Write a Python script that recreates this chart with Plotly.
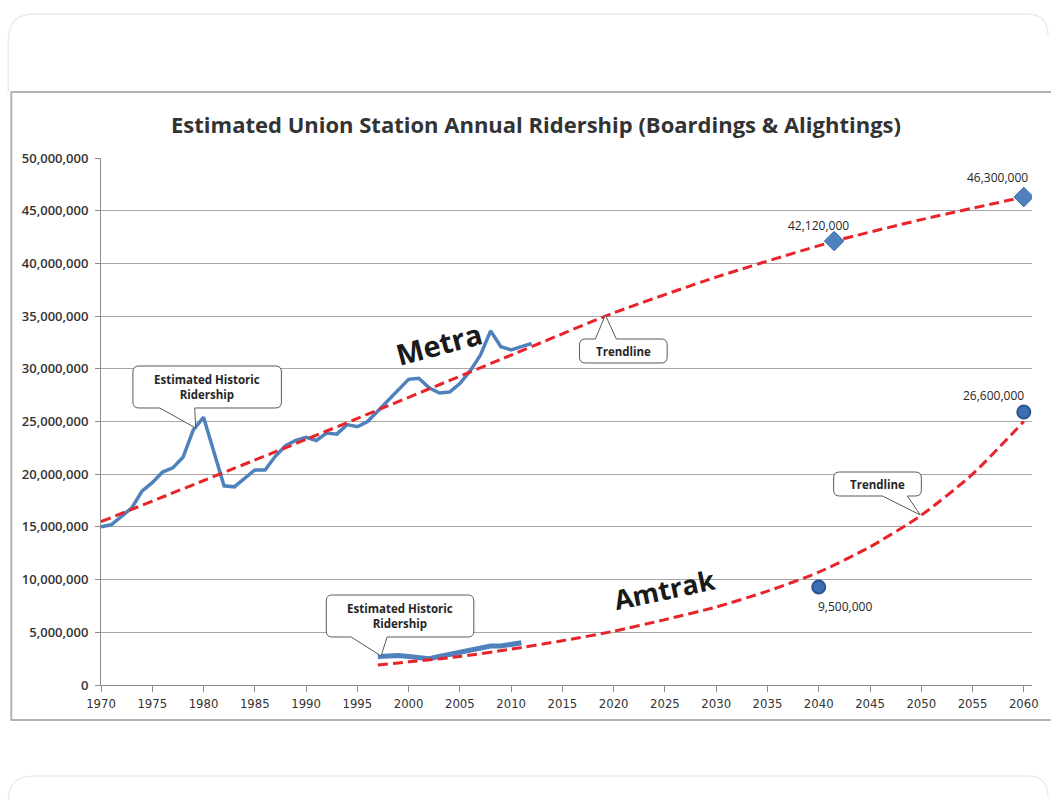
import plotly.graph_objects as go

# ---------------- data ----------------
metra_years = list(range(1970, 2013))
metra_riders = [15.0, 15.2, 16.0, 16.8, 18.4, 19.2, 20.2, 20.6, 21.6, 24.2,
                25.4, 22.0, 18.9, 18.8, 19.6, 20.4, 20.4, 21.7, 22.7, 23.2,
                23.5, 23.2, 23.9, 23.8, 24.7, 24.5, 25.0, 26.0, 27.0, 28.0,
                29.0, 29.1, 28.2, 27.7, 27.8, 28.6, 29.8, 31.3, 33.6, 32.1,
                31.8, 32.1, 32.4]  # millions

metra_trend_years = [1970, 1990, 2010, 2020, 2030, 2041.5, 2050, 2060]
metra_trend_vals = [15.5, 23.3, 31.3, 35.3, 38.7, 42.1, 44.15, 46.3]

metra_proj_years = [2041.5, 2060]
metra_proj_vals = [42.12, 46.3]
metra_proj_labels = ["42,120,000", "46,300,000"]

amtrak_years = list(range(1997, 2012))
amtrak_riders = [2.7, 2.8, 2.8, 2.7, 2.6, 2.5, 2.7, 2.9, 3.0, 3.2,
                 3.5, 3.7, 3.7, 3.8, 4.0]

amtrak_trend_years = [1997, 2000, 2005, 2010, 2015, 2020, 2025, 2030,
                      2035, 2040, 2045, 2050, 2055, 2060]
amtrak_trend_vals = [1.9, 2.2, 2.7, 3.4, 4.2, 5.1, 6.2, 7.4,
                     8.9, 10.7, 13.1, 16.1, 20.0, 25.0]

amtrak_proj_years = [2040, 2060]
amtrak_proj_vals = [9.3, 25.9]
amtrak_proj_labels = ["9,500,000", "26,600,000"]

M = 1_000_000
def scale(v):
    return [x * M for x in v]

BLUE = "#4f81bd"
RED = "#e8242a"
TXT = "#262626"

fig = go.Figure()

fig.add_trace(go.Scatter(x=metra_years, y=scale(metra_riders), mode="lines",
                         line=dict(color=BLUE, width=3.5), hoverinfo="skip"))
fig.add_trace(go.Scatter(x=amtrak_years, y=scale(amtrak_riders), mode="lines",
                         line=dict(color=BLUE, width=5), hoverinfo="skip"))
fig.add_trace(go.Scatter(x=metra_trend_years, y=scale(metra_trend_vals), mode="lines",
                         line=dict(color=RED, width=3, dash="10px,5px", shape="spline", smoothing=0.6),
                         hoverinfo="skip"))
fig.add_trace(go.Scatter(x=amtrak_trend_years, y=scale(amtrak_trend_vals), mode="lines",
                         line=dict(color=RED, width=3, dash="10px,5px", shape="spline", smoothing=0.6),
                         hoverinfo="skip"))
fig.add_trace(go.Scatter(x=metra_proj_years, y=scale(metra_proj_vals), mode="markers",
                         marker=dict(symbol="diamond", size=15, color=BLUE,
                                     line=dict(color="#3a6da8", width=1)),
                         hoverinfo="skip"))
fig.add_trace(go.Scatter(x=amtrak_proj_years, y=scale(amtrak_proj_vals), mode="markers",
                         marker=dict(symbol="circle", size=13, color="#3d6fb3",
                                     line=dict(color="#2a5591", width=2)),
                         hoverinfo="skip"))

# ---------------- layout helpers ----------------
L, R, T, B = 101, 1035, 158, 685
def PX(px):
    return (px - L) / (R - L)
def PY(py):
    return (B - py) / (B - T)

annotations = []
label_font = dict(family="Open Sans, sans-serif", size=12, color=TXT)
label_shifts = [(-16, 16), (-26, 20)]
for yr, v, t, (dx, dy) in zip(metra_proj_years, metra_proj_vals, metra_proj_labels, label_shifts):
    annotations.append(dict(x=yr, y=v * M, text=t, showarrow=False, xshift=dx, yshift=dy,
                            font=label_font))
label_shifts = [(26, -20), (-30, 17)]
for yr, v, t, (dx, dy) in zip(amtrak_proj_years, amtrak_proj_vals, amtrak_proj_labels, label_shifts):
    annotations.append(dict(x=yr, y=v * M, text=t, showarrow=False, xshift=dx, yshift=dy,
                            font=label_font))

# big series labels
annotations.append(dict(x=2003.0, y=32.4 * M, text="<b>Metra</b>", showarrow=False, textangle=-15,
                        font=dict(family="Open Sans, sans-serif", size=29, color="#1a1a1a")))
annotations.append(dict(x=2024.9, y=9.1 * M, text="<b>Amtrak</b>", showarrow=False, textangle=-12,
                        font=dict(family="Open Sans, sans-serif", size=27, color="#1a1a1a")))

# callouts: box (x0, x1, y0, y1) in pixels, tail side, tail base xa, xb, tip (tx, ty)
callouts = [
    ("Estimated Historic<br>Ridership", (133, 282, 366, 408), "bottom", (160, 195), (196, 428)),
    ("Estimated Historic<br>Ridership", (327, 475, 595, 637), "bottom", (352, 388), (382, 656)),
    ("Trendline", (581, 669, 339, 363), "top", (597, 618), (607, 315)),
    ("Trendline", (836, 924, 472, 496), "bottom", (885, 910), (923, 515)),
]

def callout_path(box, side, base, tip, r=6):
    x0, x1, y0, y1 = box
    xa, xb = base
    tx, ty = tip
    def P(x, y):
        return f"{PX(x):.5f} {PY(y):.5f}"
    s = f"M {P(x0 + r, y0)} "
    if side == "top":
        s += f"L {P(xa, y0)} L {P(tx, ty)} L {P(xb, y0)} "
    s += f"L {P(x1 - r, y0)} Q {P(x1, y0)} {P(x1, y0 + r)} "
    s += f"L {P(x1, y1 - r)} Q {P(x1, y1)} {P(x1 - r, y1)} "
    if side == "bottom":
        s += f"L {P(xb, y1)} L {P(tx, ty)} L {P(xa, y1)} "
    s += f"L {P(x0 + r, y1)} Q {P(x0, y1)} {P(x0, y1 - r)} "
    s += f"L {P(x0, y0 + r)} Q {P(x0, y0)} {P(x0 + r, y0)} Z"
    return s

shapes = [
    # chart frame
    dict(type="rect", xref="paper", yref="paper", x0=PX(11), x1=PX(1060), y0=PY(720), y1=PY(92),
         line=dict(color="#b3b3b3", width=2), layer="below"),
    # page card outline (top)
    dict(type="path", xref="paper", yref="paper",
         path=(f"M {PX(8)} {PY(92)} L {PX(8)} {PY(40)} Q {PX(8)} {PY(14)} {PX(34)} {PY(14)} "
               f"L {PX(1030)} {PY(14)} Q {PX(1051)} {PY(14)} {PX(1051)} {PY(35)}"),
         line=dict(color="#ebebeb", width=1.5), layer="below"),
    # next card outline (bottom)
    dict(type="path", xref="paper", yref="paper",
         path=(f"M {PX(8)} {PY(800)} Q {PX(8)} {PY(776)} {PX(34)} {PY(776)} "
               f"L {PX(1030)} {PY(776)} Q {PX(1051)} {PY(776)} {PX(1051)} {PY(797)}"),
         line=dict(color="#ebebeb", width=1.5), layer="below"),
]

callout_font = dict(family="Open Sans, sans-serif", size=11.5, color=TXT)
for text, box, side, base, tip in callouts:
    shapes.append(dict(type="path", xref="paper", yref="paper", layer="above",
                       path=callout_path(box, side, base, tip),
                       fillcolor="white", line=dict(color="#595959", width=1)))
    x0, x1, y0, y1 = box
    annotations.append(dict(xref="paper", yref="paper", x=PX((x0 + x1) / 2), y=PY((y0 + y1) / 2),
                            text="<b>" + text + "</b>", showarrow=False,
                            xanchor="center", yanchor="middle", font=callout_font))

tick_font = dict(family="Open Sans, sans-serif", size=13, color="#333333", weight=600)
xtick_font = dict(family="Liberation Sans Narrow, DejaVu Sans Condensed, Roboto Condensed, sans-serif",
                  size=13, color="#333333")

fig.update_layout(
    width=1051, height=800,
    margin=dict(l=L, r=1051 - R, t=T, b=800 - B, pad=0),
    paper_bgcolor="white", plot_bgcolor="white",
    showlegend=False,
    title=dict(text="<b>Estimated Union Station Annual Ridership (Boardings &amp; Alightings)</b>",
               xref="container", yref="container", x=536 / 1051, y=1 - 125 / 800,
               xanchor="center", yanchor="middle",
               font=dict(family="Open Sans, sans-serif", size=22, color="#333333")),
    xaxis=dict(range=[1970, 2060.8], tickmode="array", tickvals=list(range(1970, 2061, 5)),
               showgrid=False, zeroline=False, showline=True, linecolor="#8c8c8c", linewidth=1,
               ticks="outside", ticklen=6, tickcolor="#8c8c8c", tickfont=xtick_font),
    yaxis=dict(range=[0, 50 * M], tickmode="array", tickvals=[i * 5 * M for i in range(11)],
               tickformat=",d", showgrid=True, gridcolor="#a6a6a6", gridwidth=1,
               zeroline=False, showline=True, linecolor="#8c8c8c", linewidth=1,
               ticks="outside", ticklen=5, tickcolor="#8c8c8c", tickfont=tick_font,
               ticklabelstandoff=4),
    annotations=annotations,
    shapes=shapes,
)

fig.write_html("out.html")
